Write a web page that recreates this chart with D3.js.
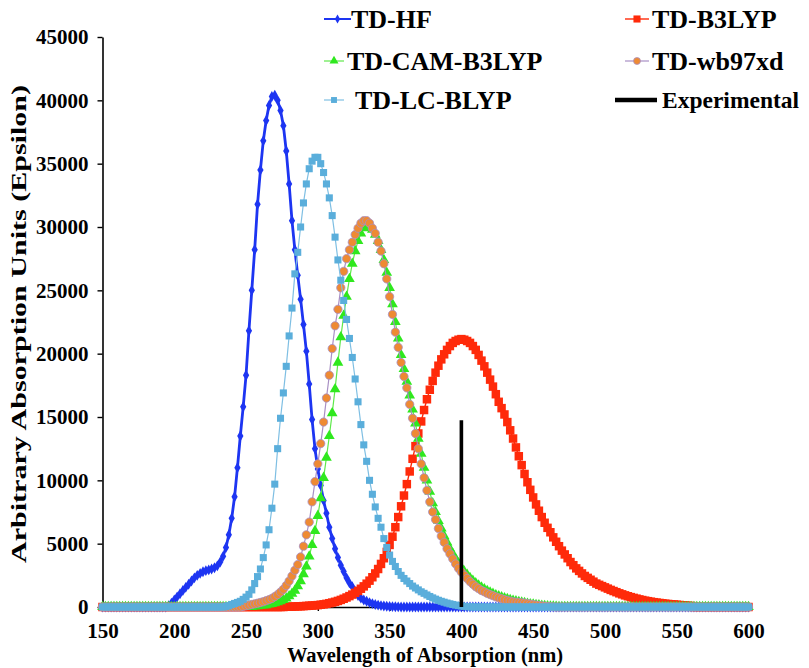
<!DOCTYPE html>
<html>
<head>
<meta charset="utf-8">
<script src="https://cdn.jsdelivr.net/npm/d3@7/dist/d3.min.js"></script>
<style>
  body { margin: 0; background: #fff; }
  svg text { font-family: "Liberation Serif", "Times New Roman", serif; font-weight: bold; fill: #000; }
</style>
</head>
<body>
<div id="chart"></div>
<script>
// wavelengths (nm), one reading every 2 nm from 150 to 600
var wavelengths = d3.range(150, 601, 2);
var xTicks = [150, 200, 250, 300, 350, 400, 450, 500, 550, 600];
var yTicks = [0, 5000, 10000, 15000, 20000, 25000, 30000, 35000, 40000, 45000];

var tdHF = [
  0,0,0,0,0,0,0,0,0,0, 0,0,0,0,0,0,0,0,0,0, 0,0,0,
  100,300,550,800,1050,1300,1550,1800,2050,2300,
  2500,2650,2780,2870,2930,3000,3100,3250,3550,4000,
  4700,5700,7000,8700,11000,13500,15800,18300,21800,25000,
  28200,31800,34500,36800,38400,39600,40300,40400,40000,39200,
  38000,36000,33400,30500,28200,26200,24300,22300,20200,17600,
  14800,12500,10900,9600,8400,7400,6300,5400,4600,3900,
  3300,2800,2300,1900,1600,1200,900,700,550,450,
  350,270,200,150,110,80,60,40,30,20,
  10,
  0,0,0,0,0,0,0,0,0,0, 0,0,0,0,0,0,0,0,0,0, 0,0,0,0,0,0,0,0,0,0,
  0,0,0,0,0,0,0,0,0,0, 0,0,0,0,0,0,0,0,0,0, 0,0,0,0,0,0,0,0,0,0,
  0,0,0,0,0,0,0,0,0,0, 0,0,0,0,0,0,0,0,0,0, 0,0,0,0,0,0,0,0,0,0,
  0,0,0,0,0,0,0,0,0,0, 0,0,0,0,0,0,0,0,0,0, 0,0,0,0,0,0,0,0,0,0,
  0,0
];

var tdB3LYP = [
  0,0,0,0,0,0,0,0,0,0, 0,0,0,0,0,0,0,0,0,0, 0,0,0,0,0,0,0,0,0,0,
  0,0,0,0,0,0,0,0,0,0, 0,0,0,0,0,0,0,0,0,0, 0,0,0,0,0,0,0,0,0,0,
  0,0,0,0,
  20,20,30,40,50,60,70,85,100,115,
  130,150,180,210,250,300,350,410,480,560,
  650,750,860,980,1120,1270,1440,1630,1840,2080,
  2350,2650,3000,3400,3850,4350,4900,5550,6300,7100,
  7950,8800,9700,10700,11700,12700,13700,14650,15550,16400,
  17150,17850,18500,19050,19550,19950,20300,20600,20850,21000,
  21100,21150,21100,21000,20850,20600,20300,19900,19450,19000,
  18500,17950,17400,16800,16200,15700,15200,14600,13950,13300,
  12600,11900,11200,10500,9850,9250,8650,8100,7600,7100,
  6650,6250,5900,5500,5150,4800,4450,4150,3850,3550,
  3300,3050,2850,2650,2450,2300,2150,2000,1850,1750,
  1650,1550,1450,1350,1260,1170,1080,1000,920,850,
  780,720,660,600,550,500,460,420,380,350,
  320,290,260,240,220,200,180,160,140,120,
  100,80,
  0,0,0,0,0,0,0,0,0,0, 0,0,0,0,0,0,0,0,0,0
];

var tdCAM = [
  0,0,0,0,0,0,0,0,0,0, 0,0,0,0,0,0,0,0,0,0, 0,0,0,0,0,0,0,0,0,0,
  0,0,0,0,0,0,0,0,0,0, 0,0,0,0,0,0,0,0,0,0, 0,0,0,
  50,70,100,125,150,200,250,300,380,460,
  560,680,850,1050,1300,1650,2050,2600,3200,4000,
  4900,6000,7200,8600,10200,11800,13500,15300,17200,19300,
  21300,23000,24500,25900,27100,28100,28900,29500,29900,30050,
  30000,29800,29400,28900,28200,27400,26400,25200,23900,22500,
  21200,19900,18800,17800,16700,15600,14500,13300,12100,11000,
  10000,9100,8200,7500,6800,6200,5600,5100,4600,4200,
  3800,3450,3100,2800,2550,2300,2080,1880,1700,1540,
  1400,1270,1150,1040,940,850,770,700,630,560,
  500,450,400,350,310,270,230,200,170,140,
  110,90,70,50,35,20,10,
  0,0,0,0,0,0,0,0,0,0, 0,0,0,0,0,0,0,0,0,0, 0,0,0,0,0,0,0,0,0,0,
  0,0,0,0,0,0,0,0,0,0, 0,0,0,0,0,0,0,0,0,0, 0,0,0,0,0,0,0,0,0,0,
  0,0,0,0,0,0
];

var tdWB97XD = [
  0,0,0,0,0,0,0,0,0,0, 0,0,0,0,0,0,0,0,0,0, 0,0,0,0,0,0,0,0,0,0,
  0,0,0,0,0,0,0,0,0,0, 0,0,0,0,0,0,0,0,0,
  50,100,150,200,250,300,360,420,500,580,
  680,820,980,1180,1400,1700,2050,2450,2900,3350,
  3950,4800,5700,6700,8300,9900,11300,12900,14600,16500,
  18300,20400,22200,23500,25200,26500,27500,28200,28800,29400,
  29900,30300,30500,30500,30300,29900,29500,28800,28100,27100,
  25900,24500,23100,21700,20500,19300,18200,17300,16000,14900,
  13700,12500,11300,10200,9200,8300,7500,6900,6200,5600,
  5100,4600,4200,3800,3400,3050,2750,2500,2250,2000,
  1800,1600,1450,1300,1200,1080,980,890,800,720,
  650,580,520,460,410,380,360,330,300,260,
  220,180,150,120,90,60,40,25,10,
  0,0,0,0,0,0,0,0,0,0, 0,0,0,0,0,0,0,0,0,0, 0,0,0,0,0,0,0,0,0,0,
  0,0,0,0,0,0,0,0,0,0, 0,0,0,0,0,0,0,0,0,0, 0,0,0,0,0,0,0,0,0,0,
  0,0,0,0,0,0,0,0
];

var tdLCBLYP = [
  0,0,0,0,0,0,0,0,0,0, 0,0,0,0,0,0,0,0,0,0, 0,0,0,0,0,0,0,0,0,0,
  0,0,0,0,0,0,0,0,0,0, 0,0,0,
  50,100,200,280,360,450,600,780,1000,1350,
  1850,2400,3000,3900,4900,6100,7800,9700,12500,14900,
  16900,19000,21400,23600,26300,28000,30000,31900,33400,34600,
  35200,35500,35500,35000,34300,33400,32300,30900,29200,27400,
  25800,24200,22700,21200,19700,18000,16200,14400,12800,11500,
  10000,8900,7900,7000,6300,5400,4700,4100,3600,3200,
  2800,2500,2250,2050,1850,1650,1500,1350,1200,1080,
  950,830,720,620,530,450,380,310,250,200,
  150,110,80,50,30,10,
  0,0,0,0,0,0,0,0,0,0, 0,0,0,0,0,0,0,0,0,0, 0,0,0,0,0,0,0,0,0,0,
  0,0,0,0,0,0,0,0,0,0, 0,0,0,0,0,0,0,0,0,0, 0,0,0,0,0,0,0,0,0,0,
  0,0,0,0,0,0,0,0,0,0, 0,0,0,0,0,0,0,0,0,0, 0,0,0,0,0,0,0,0,0,0,
  0,0,0,0,0,0,0
];

// experimental absorption: a single stick
var expWavelength = [400, 400];
var expValues = [0, 14750];

var series = [
  {name: "TD-HF",        values: tdHF,      line: "#1d35f2", fill: "#1d35f2", stroke: "none", symbol: d3.symbolDiamond, size: 34, width: 2.8},
  {name: "TD-B3LYP",     values: tdB3LYP,   line: "#ff2a0a", fill: "#ff2a0a", stroke: "none", symbol: d3.symbolSquare,  size: 72, width: 1.4},
  {name: "TD-CAM-B3LYP", values: tdCAM,     line: "#5ee84a", fill: "#2fe81e", stroke: "none", symbol: d3.symbolTriangle, size: 50, width: 1.2},
  {name: "TD-wb97xd",    values: tdWB97XD,  line: "#a88fc4", fill: "#ee8a33", stroke: "#a88fc4", symbol: d3.symbolCircle, size: 54, width: 1.2},
  {name: "TD-LC-BLYP",   values: tdLCBLYP,  line: "#7fbfe3", fill: "#5aaedb", stroke: "none", symbol: d3.symbolSquare,  size: 50, width: 1.2}
];

series.forEach(function(s) {
  if (s.values.length != wavelengths.length) {
    throw new Error(s.name + " has " + s.values.length + " values, expected " + wavelengths.length);
  }
});

var width = 809, height = 668;
var svg = d3.select("#chart").append("svg")
    .attr("width", width)
    .attr("height", height);

var x = d3.scaleLinear().domain([150, 600]).range([102.5, 748.5]);
var y = d3.scaleLinear().domain([0, 45000]).range([607, 37]);

// axes go underneath the curves
var xAxis = svg.append("g")
    .attr("transform", "translate(0," + y(0) + ")")
    .call(d3.axisBottom(x).tickValues(xTicks).tickSize(4).tickSizeOuter(0).tickPadding(12));
var yAxis = svg.append("g")
    .attr("transform", "translate(" + x(150) + ",0)")
    .call(d3.axisLeft(y).tickValues(yTicks).tickFormat(d3.format("d")).tickSize(5).tickSizeOuter(0).tickPadding(9));

[xAxis, yAxis].forEach(function(g) {
  g.select(".domain").attr("stroke", "#000").attr("stroke-width", 1.6);
  g.selectAll(".tick line").attr("stroke", "#000").attr("stroke-width", 1.4);
  g.selectAll(".tick text")
    .style("font-family", "'Liberation Serif', serif")
    .style("font-weight", "bold")
    .style("font-size", "21px")
    .attr("fill", "#000");
});
xAxis.selectAll(".tick text").attr("dy", "0.71em");

var line = d3.line()
    .x(function(d) { return x(d[0]); })
    .y(function(d) { return y(d[1]); });

series.forEach(function(s) {
  var pts = wavelengths.map(function(w, i) { return [w, s.values[i]]; });
  var g = svg.append("g").attr("class", "series");
  g.append("path")
    .datum(pts)
    .attr("d", line)
    .attr("fill", "none")
    .attr("stroke", s.line)
    .attr("stroke-width", s.width);
  g.selectAll("path.mark")
    .data(pts)
    .enter()
    .append("path")
    .attr("class", "mark")
    .attr("transform", function(d) { return "translate(" + x(d[0]) + "," + y(d[1]) + ")"; })
    .attr("d", d3.symbol().type(s.symbol).size(s.size))
    .attr("fill", s.fill)
    .attr("stroke", s.stroke)
    .attr("stroke-width", 0.8);
});

// experimental stick on top
svg.append("path")
  .datum(expWavelength.map(function(w, i) { return [w, expValues[i]]; }))
  .attr("d", line)
  .attr("fill", "none")
  .attr("stroke", "#000")
  .attr("stroke-width", 3.6);

// axis titles
svg.append("text")
  .attr("x", 425)
  .attr("y", 655)
  .attr("text-anchor", "middle")
  .attr("dominant-baseline", "central")
  .style("font-size", "20.5px")
  .text("Wavelength of Absorption (nm)");

svg.append("text")
  .attr("transform", "translate(19,324) rotate(-90)")
  .attr("text-anchor", "middle")
  .attr("dominant-baseline", "central")
  .attr("textLength", 478)
  .attr("lengthAdjust", "spacingAndGlyphs")
  .style("font-size", "20px")
  .text("Arbitrary Absorption Units (Epsilon)");

// legend
var legend = [
  {s: series[0], lx: 324, lw: 27, tx: 351, cy: 19},
  {s: series[1], lx: 625, lw: 24, tx: 652, cy: 19},
  {s: series[2], lx: 324, lw: 20, tx: 347, cy: 61},
  {s: series[3], lx: 625, lw: 24, tx: 652, cy: 61},
  {s: series[4], lx: 324, lw: 20, tx: 355, cy: 100}
];
legend.forEach(function(l) {
  var g = svg.append("g");
  g.append("line")
    .attr("x1", l.lx).attr("x2", l.lx + l.lw)
    .attr("y1", l.cy).attr("y2", l.cy)
    .attr("stroke", l.s.line)
    .attr("stroke-width", Math.min(l.s.width, 2));
  g.append("path")
    .attr("transform", "translate(" + (l.lx + l.lw / 2) + "," + l.cy + ")")
    .attr("d", d3.symbol().type(l.s.symbol).size(l.s.size * 0.7))
    .attr("fill", l.s.fill)
    .attr("stroke", l.s.stroke)
    .attr("stroke-width", 0.8);
  g.append("text")
    .attr("x", l.tx)
    .attr("y", l.cy)
    .attr("dominant-baseline", "central")
    .style("font-size", "26px")
    .text(l.s.name);
});
svg.append("line")
  .attr("x1", 615).attr("x2", 657)
  .attr("y1", 100).attr("y2", 100)
  .attr("stroke", "#000")
  .attr("stroke-width", 4.5);
svg.append("text")
  .attr("x", 662)
  .attr("y", 100)
  .attr("dominant-baseline", "central")
  .style("font-size", "23.5px")
  .text("Experimental");
</script>
</body>
</html>
